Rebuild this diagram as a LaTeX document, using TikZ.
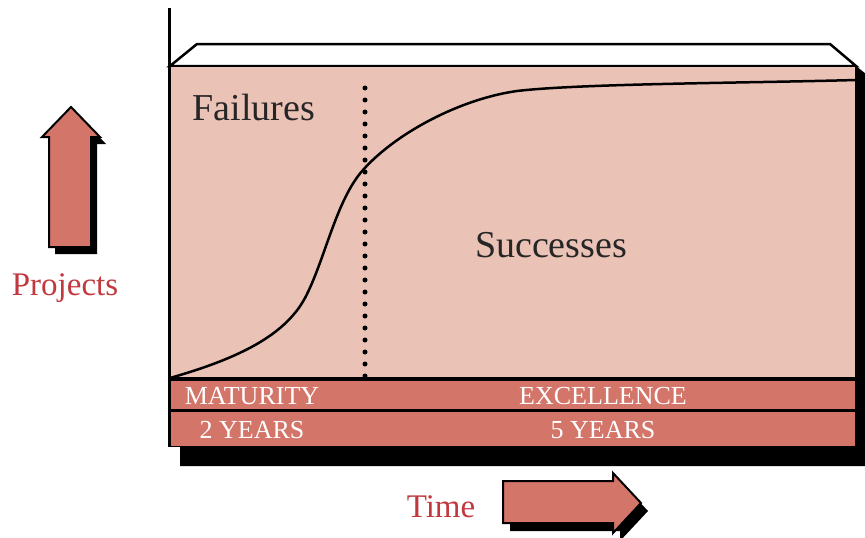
\documentclass[tikz,border=0pt]{standalone}
\usepackage{fontspec}
\setmainfont{Liberation Serif}
\definecolor{lightpink}{HTML}{EBC2B6}
\definecolor{bandpink}{HTML}{D4756A}
\definecolor{labelred}{HTML}{C1393F}
\tikzset{
  outline/.style={draw=black, line width=2.5pt, line join=miter},
  bigtext/.style={font=\fontsize{38}{40}\selectfont, text=black!85},
  bandtext/.style={font=\fontsize{26}{28}\selectfont, text=white},
  axistext/.style={font=\fontsize{33}{35}\selectfont, text=labelred},
  fatarrow/.style={fill=bandpink, draw=black, line width=2pt, line join=miter},
  shadowfill/.style={fill=black},
}
\begin{document}
\begin{tikzpicture}[x=1pt,y=-1pt]
\useasboundingbox (0,0) rectangle (865,538);
% shadow of box
\fill[shadowfill] (856,66) -- (866,74) -- (866,466) -- (180,466) -- (180,446) -- cycle;
% lid
\draw[outline, fill=white] (170,66) -- (197,44) -- (830,44) -- (856,66) -- cycle;
% front face
\fill[black] (170,376) rectangle (856,447);
\draw[outline, fill=lightpink] (170,66) rectangle (856,378);
\fill[bandpink] (171,381) rectangle (855,409);
\fill[bandpink] (171,412) rectangle (855,446);
% axis line
\draw[line width=3pt] (169,8) -- (169,447);
% dotted line
\coordinate (dtop) at (365,88);
\coordinate (dbot) at (365,378);
\draw[line width=5pt, line cap=round, dash pattern=on 0pt off 12pt] (dtop) -- (dbot);
% curve
\coordinate (c0) at (170,378);
\coordinate (c1) at (305,298);
\coordinate (c2) at (363,170);
\coordinate (c3) at (517,91);
\coordinate (c4) at (856,80);
\draw[line width=2.5pt] (c0) .. controls (240,358) and (285,335) .. (c1)
  .. controls (325,260) and (336,200) .. (c2)
  .. controls (396,133) and (460,99) .. (c3)
  .. controls (580,83.5) and (750,83) .. (c4);
% texts
\node[bigtext] (fail) at (254,108) {Failures};
\node[bigtext] (succ) at (551,245) {Successes};
\node[bandtext] (mat) at (252,396) {MATURITY};
\node[bandtext] (exc) at (603,396) {EXCELLENCE};
\node[bandtext] (two) at (252,430) {2 YEARS};
\node[bandtext] (five) at (603,430) {5 YEARS};
\node[axistext] (proj) at (65,288) {Projects};
\node[axistext] (time) at (441,507) {Time};
% projects arrow
\fill[shadowfill, shift={(6,7)}] (49,247) -- (49,137) -- (42,137) -- (71,107) -- (100,137) -- (91,137) -- (91,247) -- cycle;
\draw[fatarrow] (49,247) -- (49,137) -- (42,137) -- (71,107) -- (100,137) -- (91,137) -- (91,247) -- cycle;
% time arrow
\fill[shadowfill, shift={(7,8)}] (503,481) -- (613,481) -- (613,473) -- (641,503) -- (613,533) -- (613,523) -- (503,523) -- cycle;
\draw[fatarrow] (503,481) -- (613,481) -- (613,473) -- (641,503) -- (613,533) -- (613,523) -- (503,523) -- cycle;
\end{tikzpicture}
\end{document}
